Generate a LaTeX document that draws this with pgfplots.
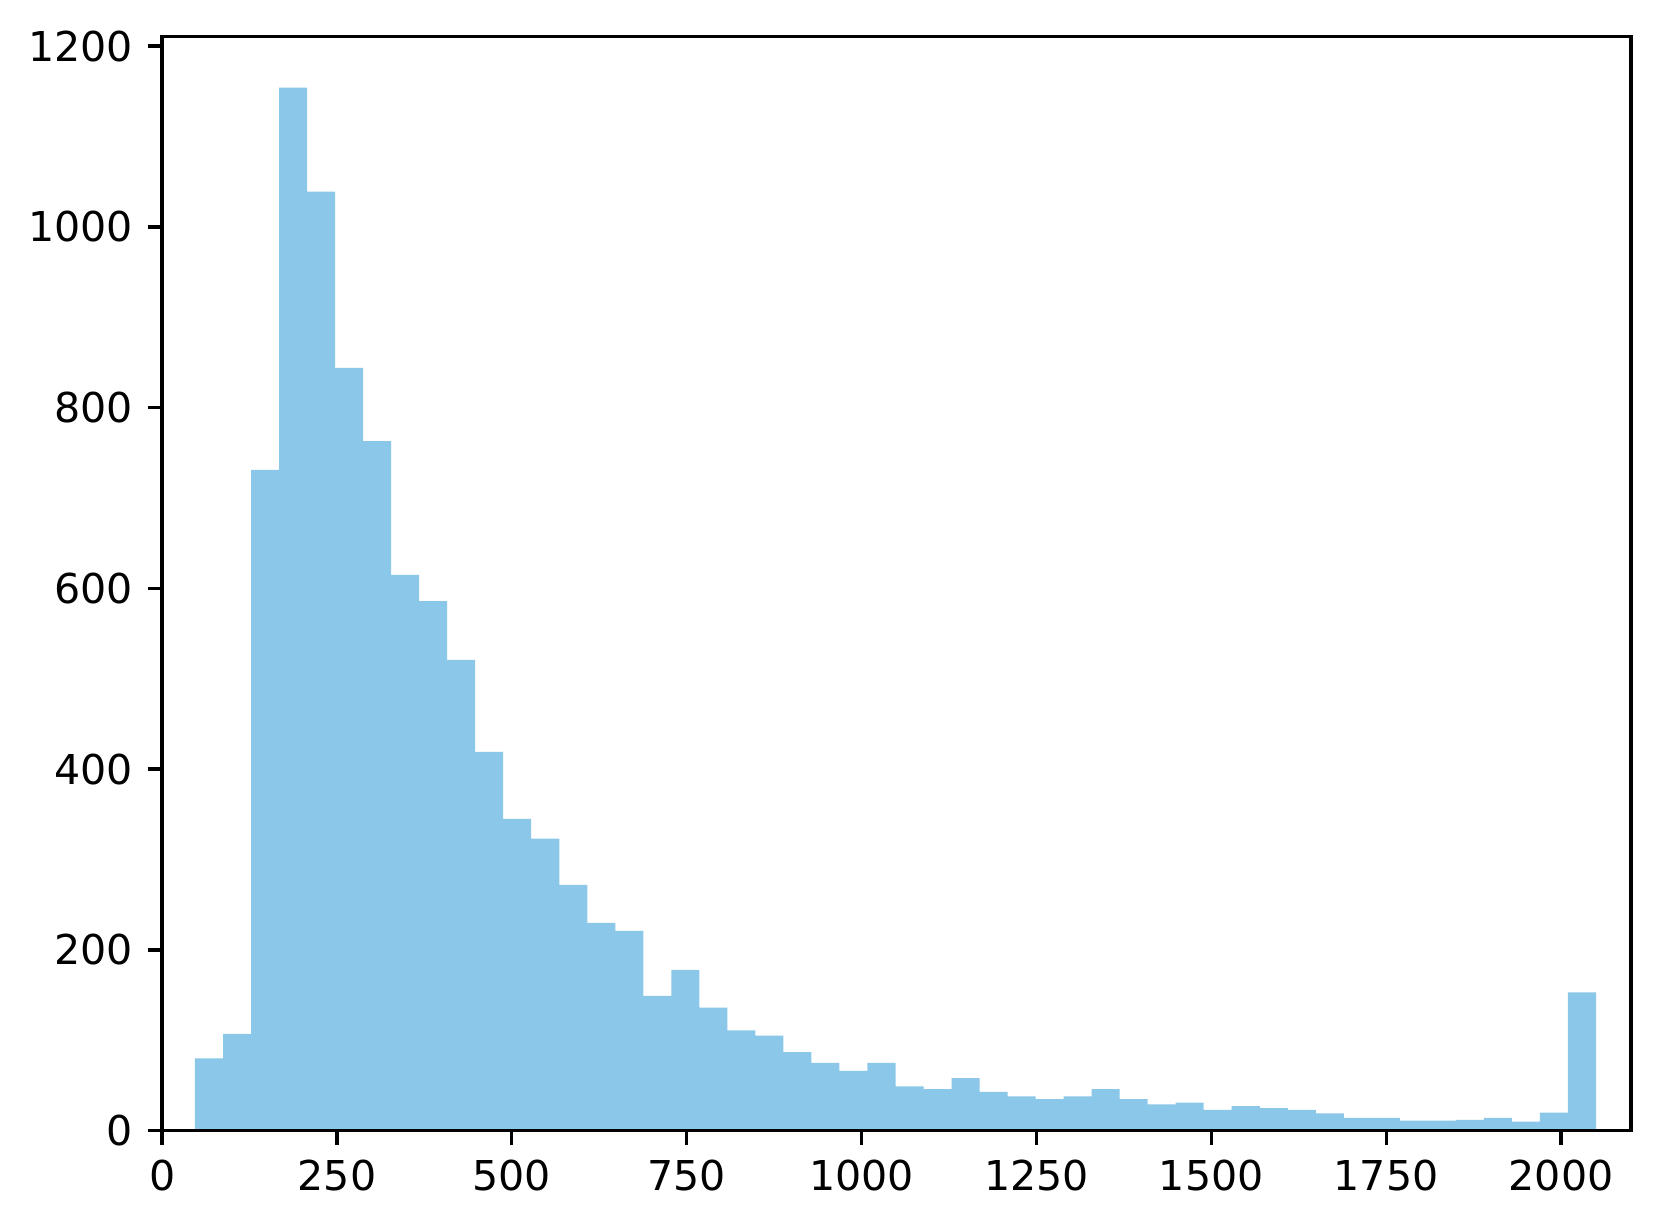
\documentclass[border=0pt]{standalone}
\usepackage{fontspec}
\setmainfont{DejaVu Sans}
\usepackage{pgfplots}
\pgfplotsset{compat=1.18}
\definecolor{barblue}{RGB}{138,199,232}
\begin{document}
\begin{tikzpicture}
\begin{axis}[
  scale only axis,
  width=357pt, height=266pt,
  xmin=0, xmax=2100, ymin=0, ymax=1211,
  xtick={0,250,...,2000}, ytick={0,200,...,1200},
  tick align=outside, tick pos=left,
  major tick length=3.5pt,
  every tick/.style={black, line width=0.8pt},
  axis line style={line width=0.8pt},
  /pgf/number format/1000 sep={},
  /pgf/number format/assume math mode=true,
  tick label style={font=\fontsize{10}{12}\selectfont},
  axis on top,
]
\addplot[ybar interval, fill=barblue, draw=none] coordinates {
(47.00,80) (87.06,107) (127.12,731) (167.18,1154) (207.24,1039)
(247.30,844) (287.36,763) (327.42,615) (367.48,586) (407.54,521)
(447.60,419) (487.66,345) (527.72,323) (567.78,272) (607.84,230)
(647.90,221) (687.96,149) (728.02,178) (768.08,136) (808.14,111)
(848.20,105) (888.26,87) (928.32,75) (968.38,66) (1008.44,75)
(1048.50,49) (1088.56,46) (1128.62,58) (1168.68,43) (1208.74,38)
(1248.80,35) (1288.86,38) (1328.92,46) (1368.98,35) (1409.04,29)
(1449.10,31) (1489.16,23) (1529.22,27) (1569.28,25) (1609.34,23)
(1649.40,19) (1689.46,14) (1729.52,14) (1769.58,11) (1809.64,11)
(1849.70,12) (1889.76,14) (1929.82,10) (1969.88,20) (2009.94,153)
(2050.00,153)
};
\end{axis}
\pgfresetboundingbox
\path ([xshift=-39.4pt,yshift=-24pt]current axis.south west) rectangle ([xshift=7.3pt,yshift=8.8pt]current axis.north east);
\end{tikzpicture}
\end{document}
